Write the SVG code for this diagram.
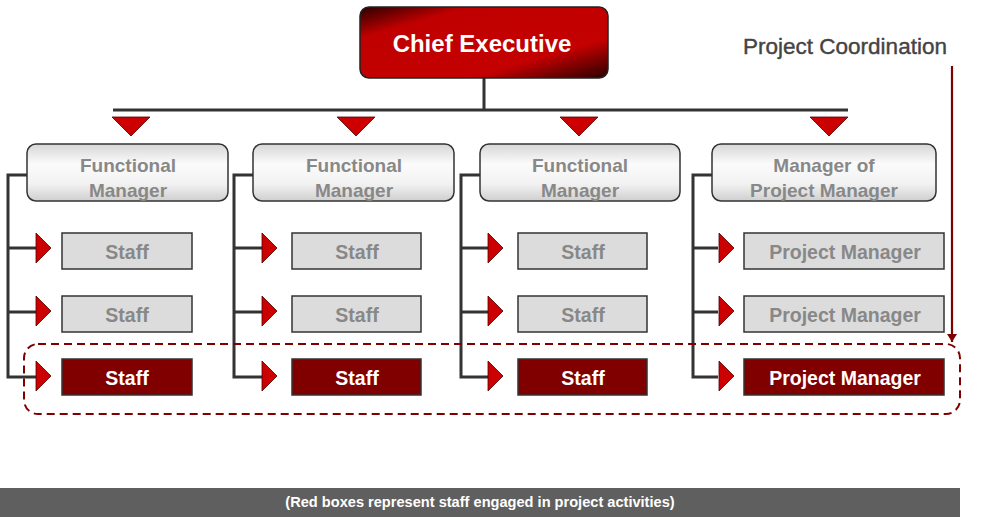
<svg xmlns="http://www.w3.org/2000/svg" width="992" height="517" viewBox="0 0 992 517">
<defs>
<linearGradient id="ceo" x1="0" y1="0" x2="1" y2="1">
<stop offset="0" stop-color="#2a0000"/>
<stop offset="0.22" stop-color="#c00000"/>
<stop offset="0.72" stop-color="#c40000"/>
<stop offset="1" stop-color="#2a0000"/>
</linearGradient>
<linearGradient id="mgr" x1="0" y1="0" x2="0" y2="1">
<stop offset="0" stop-color="#d6d6d6"/>
<stop offset="0.35" stop-color="#fbfbfb"/>
<stop offset="0.7" stop-color="#f2f2f2"/>
<stop offset="1" stop-color="#cfcfcf"/>
</linearGradient>
<marker id="ah" markerWidth="10" markerHeight="10" refX="8" refY="5" orient="auto" markerUnits="userSpaceOnUse">
<path d="M0,0 L8,5 L0,10 Z" fill="#800000"/>
</marker>
</defs>
<style>
text{font-family:"Liberation Sans",Arial,sans-serif;text-anchor:middle}
.ln{stroke:#333;stroke-width:3;fill:none}
.mgr{fill:url(#mgr);stroke:#333;stroke-width:1.5}
.mt{font-size:19px;font-weight:bold;fill:#888}
.gb{fill:#dcdcdc;stroke:#333;stroke-width:1.5}
.rb{fill:#800000;stroke:#333;stroke-width:1.5}
.gt{font-size:19.5px;font-weight:bold;fill:#888}
.wt{font-size:19.5px;font-weight:bold;fill:#fff}
.tri{fill:#cc0000;stroke:#500000;stroke-width:0.8}
</style>
<rect width="992" height="517" fill="#fff"/>

<g id="connectors">
<path class="ln" d="M484,78 V110 M113,110 H848"/>
<path class="tri" d="M112,117 L150,117 L131,136 Z"/>
<path class="tri" d="M337,117 L375,117 L356,136 Z"/>
<path class="tri" d="M560,117 L598,117 L579,136 Z"/>
<path class="tri" d="M810,117 L848,117 L829,136 Z"/>
<path class="ln" d="M27,175 H8 V377 H36 M8,248 H36 M8,312 H36"/>
<path class="ln" d="M253,175 H234 V377 H262 M234,248 H262 M234,312 H262"/>
<path class="ln" d="M480,175 H461 V377 H488 M461,248 H488 M461,312 H488"/>
<path class="ln" d="M712,175 H693 V377 H718 M693,248 H718 M693,312 H718"/>
<g>
<path class="tri" d="M36,233 L51,248 L36,263 Z"/>
<path class="tri" d="M36,296 L51,311 L36,326 Z"/>
<path class="tri" d="M36,361 L51,376 L36,391 Z"/>
<path class="tri" d="M262,233 L277,248 L262,263 Z"/>
<path class="tri" d="M262,296 L277,311 L262,326 Z"/>
<path class="tri" d="M262,361 L277,376 L262,391 Z"/>
<path class="tri" d="M488,233 L503,248 L488,263 Z"/>
<path class="tri" d="M488,296 L503,311 L488,326 Z"/>
<path class="tri" d="M488,361 L503,376 L488,391 Z"/>
<path class="tri" d="M719,233 L734,248 L719,263 Z"/>
<path class="tri" d="M719,296 L734,311 L719,326 Z"/>
<path class="tri" d="M719,361 L734,376 L719,391 Z"/>
</g>
<path d="M952,66 V342" stroke="#800000" stroke-width="2.2" fill="none" marker-end="url(#ah)"/>
</g>

<g id="project-group">
<rect x="24" y="344" width="936" height="70" rx="14" fill="none" stroke="#800000" stroke-width="2" stroke-dasharray="8,5"/>
</g>

<g id="chief-executive">
<rect x="360" y="7" width="248" height="71" rx="9" fill="url(#ceo)" stroke="#222" stroke-width="1.5"/>
<text x="482" y="52" font-size="24" font-weight="bold" fill="#fff">Chief Executive</text>
</g>

<g id="project-coordination">
<text x="845" y="54" font-size="22.5" fill="#444" stroke="#444" stroke-width="0.4">Project Coordination</text>
</g>

<g id="fm1"><rect class="mgr" x="27" y="144" width="201" height="57" rx="9"/><text class="mt" x="128" y="172">Functional</text><text class="mt" x="128" y="197">Manager</text></g>
<g id="fm2"><rect class="mgr" x="253" y="144" width="201" height="57" rx="9"/><text class="mt" x="354" y="172">Functional</text><text class="mt" x="354" y="197">Manager</text></g>
<g id="fm3"><rect class="mgr" x="480" y="144" width="200" height="57" rx="9"/><text class="mt" x="580" y="172">Functional</text><text class="mt" x="580" y="197">Manager</text></g>
<g id="mpm"><rect class="mgr" x="712" y="144" width="224" height="57" rx="9"/><text class="mt" x="824" y="172">Manager of</text><text class="mt" x="824" y="197">Project Manager</text></g>

<g id="s1a"><rect class="gb" x="62" y="233" width="130" height="36"/><text class="gt" x="127" y="259">Staff</text></g>
<g id="s1b"><rect class="gb" x="62" y="296" width="130" height="36"/><text class="gt" x="127" y="322">Staff</text></g>
<g id="s1c"><rect class="rb" x="62" y="359" width="130" height="36"/><text class="wt" x="127" y="385">Staff</text></g>

<g id="s2a"><rect class="gb" x="292" y="233" width="129" height="36"/><text class="gt" x="357" y="259">Staff</text></g>
<g id="s2b"><rect class="gb" x="292" y="296" width="129" height="36"/><text class="gt" x="357" y="322">Staff</text></g>
<g id="s2c"><rect class="rb" x="292" y="359" width="129" height="36"/><text class="wt" x="357" y="385">Staff</text></g>

<g id="s3a"><rect class="gb" x="518" y="233" width="129" height="36"/><text class="gt" x="583" y="259">Staff</text></g>
<g id="s3b"><rect class="gb" x="518" y="296" width="129" height="36"/><text class="gt" x="583" y="322">Staff</text></g>
<g id="s3c"><rect class="rb" x="518" y="359" width="129" height="36"/><text class="wt" x="583" y="385">Staff</text></g>

<g id="pm1"><rect class="gb" x="744" y="233" width="200" height="36"/><text class="gt" x="845" y="259">Project Manager</text></g>
<g id="pm2"><rect class="gb" x="744" y="296" width="200" height="36"/><text class="gt" x="845" y="322">Project Manager</text></g>
<g id="pm3"><rect class="rb" x="744" y="359" width="200" height="36"/><text class="wt" x="845" y="385">Project Manager</text></g>

<g id="footer">
<rect x="0" y="488" width="960" height="29" fill="#5f5f5f"/>
<text x="480" y="507" font-size="14.6" font-weight="bold" fill="#fff">(Red boxes represent staff engaged in project activities)</text>
</g>
</svg>
